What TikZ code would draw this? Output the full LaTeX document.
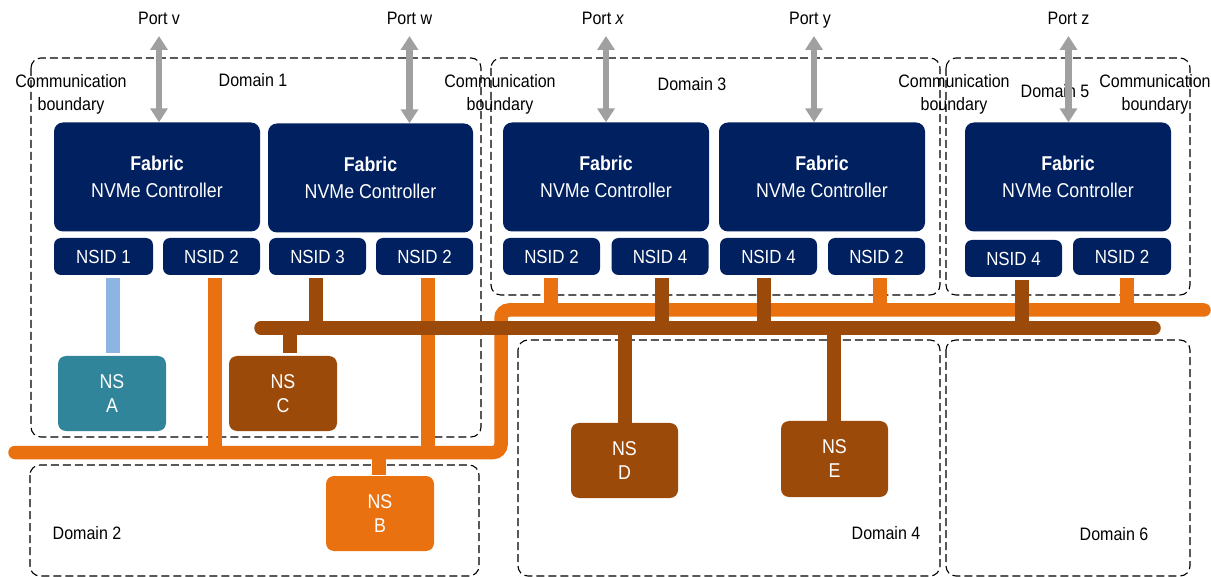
\documentclass[tikz,border=0pt]{standalone}
\usepackage{fontspec}
\setmainfont{Liberation Sans}[FakeStretch=0.89]
\usetikzlibrary{arrows.meta}

\definecolor{navy}{RGB}{0,32,96}
\definecolor{tealns}{RGB}{49,133,155}
\definecolor{rust}{RGB}{156,74,9}
\definecolor{amber}{RGB}{233,113,16}
\definecolor{skyline}{RGB}{142,180,227}
\definecolor{arrowgrey}{RGB}{160,160,160}

\newcommand{\ctlfont}{\fontsize{20}{27}\selectfont}
\newcommand{\nsidfont}{\fontsize{19}{23}\selectfont}
\newcommand{\nsfont}{\fontsize{20}{24}\selectfont}
\newcommand{\lblfont}{\fontsize{18}{23}\selectfont}

\tikzset{
  ctl/.style={fill=navy, rounded corners=9pt, minimum width=206pt, minimum height=109pt,
    text=white, align=center, inner sep=0pt, font=\ctlfont},
  nsid/.style={fill=navy, rounded corners=7pt, minimum width=97pt, minimum height=37pt,
    text=white, inner sep=0pt, font=\nsidfont},
  nsbox/.style={rounded corners=8pt, minimum width=108pt, minimum height=75pt,
    text=white, align=center, inner sep=0pt, font=\nsfont},
  dombox/.style={draw=black, dash pattern=on 8pt off 4pt, line width=1.1pt, rounded corners=10pt},
  lbl/.style={inner sep=0pt, font=\lblfont, align=center},
  portarrow/.style={draw=arrowgrey, line width=6.5pt,
    {Triangle[width=17pt,length=14pt]}-{Triangle[width=17pt,length=14pt]}},
  obus/.style={draw=amber, line width=13.5pt, line cap=round, rounded corners=8pt},
  oline/.style={draw=amber, line width=13.5pt},
  bbus/.style={draw=rust, line width=13.5pt, line cap=round},
  bline/.style={draw=rust, line width=13.5pt},
  aline/.style={draw=skyline, line width=14pt}
}

\begin{document}
\begin{tikzpicture}[x=1pt,y=-1pt]
\useasboundingbox (0,0) rectangle (1211,577);

% domain boundaries
\draw[dombox] (31,58) rectangle (481,437);
\draw[dombox] (491,58) rectangle (940,295);
\draw[dombox] (946,58) rectangle (1190,295);
\draw[dombox] (30,465) rectangle (479,576);
\draw[dombox] (518,340) rectangle (940,576);
\draw[dombox] (946,340) rectangle (1190,576);

% domain and boundary labels
\node[lbl, anchor=base] (d1) at (253,87) {Domain 1};
\node[lbl, anchor=base] (d3) at (692,91) {Domain 3};
\node[lbl, anchor=base] (d5) at (1055,98) {Domain 5};
\node[lbl, anchor=base] (d2) at (87,539) {Domain 2};
\node[lbl, anchor=base] (d4) at (886,539) {Domain 4};
\node[lbl, anchor=base] (d6) at (1114,540) {Domain 6};
\node[lbl] (cb1) at (71,94) {Communication\\boundary};
\node[lbl] (cb2) at (500,94) {Communication\\boundary};
\node[lbl] (cb3) at (954,94) {Communication\\boundary};
\node[lbl] (cb4) at (1155,94) {Communication\\boundary};

% ports
\node[lbl, anchor=base] (portv) at (159,25) {Port v};
\node[lbl, anchor=base] (portw) at (409.5,25) {Port w};
\node[lbl, anchor=base] (portx) at (603,25) {Port \textit{x}};
\node[lbl, anchor=base] (porty) at (810,25) {Port y};
\node[lbl, anchor=base] (portz) at (1068.5,25) {Port z};

% controllers
\node[ctl] (c1) at (157,177) {\textbf{Fabric}\\NVMe Controller};
\node[ctl, minimum width=205pt] (c2) at (370.5,178) {\textbf{Fabric}\\NVMe Controller};
\node[ctl] (c3) at (606,177) {\textbf{Fabric}\\NVMe Controller};
\node[ctl] (c4) at (822,177) {\textbf{Fabric}\\NVMe Controller};
\node[ctl] (c5) at (1068,177) {\textbf{Fabric}\\NVMe Controller};

% namespace IDs
\node[nsid, minimum width=99pt] (n11) at (103.5,256.5) {NSID 1};
\node[nsid] (n12) at (211.5,256.5) {NSID 2};
\node[nsid] (n23) at (317.5,256.5) {NSID 3};
\node[nsid] (n22) at (424.5,256.5) {NSID 2};
\node[nsid] (n32) at (551.5,256.5) {NSID 2};
\node[nsid] (n34) at (660,256.5) {NSID 4};
\node[nsid] (n44) at (768.5,256.5) {NSID 4};
\node[nsid] (n42) at (876.5,256.5) {NSID 2};
\node[nsid] (n54) at (1013.5,258.5) {NSID 4};
\node[nsid, minimum width=98pt] (n52) at (1122,256.5) {NSID 2};

% namespaces
\node[nsbox, fill=tealns] (nsA) at (112,393.5) {NS\\A};
\node[nsbox, fill=rust] (nsC) at (283,393.5) {NS\\C};
\node[nsbox, fill=amber] (nsB) at (380,513.5) {NS\\B};
\node[nsbox, fill=rust, minimum width=107pt] (nsD) at (624.5,460.5) {NS\\D};
\node[nsbox, fill=rust, minimum width=107pt, minimum height=76pt] (nsE) at (834.5,459) {NS\\E};

% port links
\draw[portarrow] ([yshift=-11pt]portv.base) -- (portv.base |- c1.north);
\draw[portarrow] ([yshift=-11pt]portw.base) -- (portw.base |- c2.north);
\draw[portarrow] ([xshift=3pt,yshift=-11pt]portx.base) -- ([xshift=3pt]portx.base |- c3.north);
\draw[portarrow] ([xshift=4pt,yshift=-11pt]porty.base) -- ([xshift=4pt]porty.base |- c4.north);
\draw[portarrow] ([yshift=-11pt]portz.base) -- (portz.base |- c5.north);

% private link to NS A
\draw[aline, shorten <=3pt, shorten >=3pt] (n11.south -| 113,0) -- (nsA.north -| 113,0);

% orange fabric path
\coordinate (obL) at (15,452.5);
\coordinate (obR) at (501,452.5);
\coordinate (otL) at (501,310);
\coordinate (otR) at (1204,310);
\draw[obus] (obL) -- (obR) -- (otL) -- (otR);
\draw[oline, shorten <=3pt] (n12.south -| 215,0) -- (obL -| 215,0);
\draw[oline, shorten <=3pt] (n22.south -| 428,0) -- (obL -| 428,0);
\draw[oline, shorten <=3pt] (n32.south -| 551,0) -- (otL -| 551,0);
\draw[oline, shorten <=3pt] (n42.south -| 880,0) -- (otL -| 880,0);
\draw[oline, shorten <=3pt] (n52.south -| 1127,0) -- (otL -| 1127,0);
\draw[oline, shorten >=1pt] (obL -| 379,0) -- (nsB.north -| 379,0);

% brown fabric path
\coordinate (bbL) at (261,328);
\coordinate (bbR) at (1154,328);
\draw[bbus] (bbL) -- (bbR);
\draw[bline, shorten <=3pt] (n23.south -| 316,0) -- (bbL -| 316,0);
\draw[bline, shorten <=3pt, shorten >=-6pt] (n34.south -| 662,0) -- (bbL -| 662,0);
\draw[bline, shorten <=3pt, shorten >=-6pt] (n44.south -| 764,0) -- (bbL -| 764,0);
\draw[bline, shorten <=3pt] (n54.south -| 1022,0) -- (bbL -| 1022,0);
\draw[bline, shorten >=3pt] (bbL -| 290,0) -- (nsC.north -| 290,0);
\draw[bline] (bbL -| 625,0) -- (nsD.north -| 625,0);
\draw[bline] (bbL -| 834,0) -- (nsE.north -| 834,0);

\end{tikzpicture}
\end{document}
